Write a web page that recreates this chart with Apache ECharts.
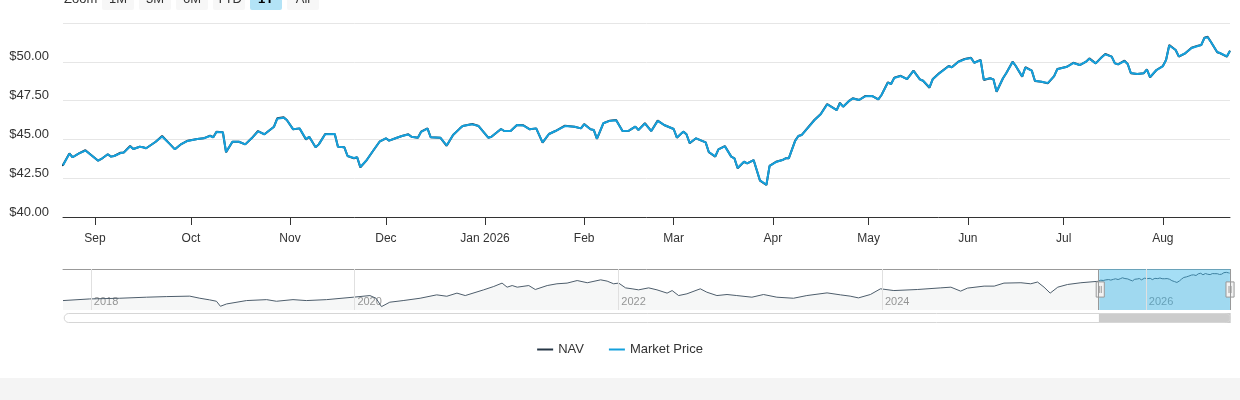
<!DOCTYPE html>
<html>
<head>
<meta charset="utf-8">
<script src="https://cdn.jsdelivr.net/npm/echarts@6/dist/echarts.min.js"></script>
<style>
  html, body { margin: 0; padding: 0; background: #f4f4f4; }
  #chart { width: 1240px; height: 378px; background: #fff; }
</style>
</head>
<body>
<div id="chart"></div>
<script>
// history before the visible year, only seen in the navigator
const histDates = [
  '2017-10-16', '2017-12-29', '2018-03-22', '2018-06-04', '2018-07-29', '2018-10-02', '2018-10-30',
  '2018-11-26', '2018-12-15', '2018-12-26', '2019-01-12', '2019-03-08', '2019-05-03', '2019-05-30',
  '2019-07-15', '2019-08-21', '2019-10-16', '2019-12-29', '2020-02-13', '2020-03-01', '2020-03-16',
  '2020-04-08', '2020-05-15', '2020-07-01', '2020-08-16', '2020-09-13', '2020-10-11', '2020-11-03',
  '2020-12-24', '2021-01-21', '2021-02-13', '2021-02-27', '2021-03-13', '2021-03-27', '2021-04-28',
  '2021-05-16', '2021-06-18', '2021-07-15', '2021-08-12', '2021-09-09', '2021-10-07', '2021-11-13',
  '2021-12-01', '2021-12-19', '2022-01-02', '2022-01-21', '2022-02-08', '2022-02-26', '2022-03-26',
  '2022-04-18', '2022-05-16', '2022-05-30', '2022-06-17', '2022-07-10', '2022-08-16', '2022-09-03',
  '2022-10-01', '2022-10-29', '2022-11-25', '2023-01-06', '2023-02-07', '2023-03-16', '2023-05-01',
  '2023-06-07', '2023-08-02', '2023-09-08', '2023-10-05', '2023-10-28', '2023-11-30', '2023-12-28',
  '2024-02-03', '2024-04-08', '2024-06-12', '2024-07-10', '2024-08-06', '2024-08-25', '2024-10-10',
  '2024-11-07', '2024-12-04', '2025-01-20', '2025-02-16', '2025-03-07', '2025-03-25', '2025-04-11',
  '2025-05-02', '2025-05-29', '2025-07-05'
];
const histNav = [
  26.8, 28.2, 28.8, 29.7, 30.2, 30.6, 28.8,
  27.4, 26.2, 21.9, 23.9, 26.8, 27.6, 26.2,
  27.6, 26.8, 27.6, 29.7, 31.1, 28.8, 21.6,
  25.4, 26.8, 28.8, 31.7, 30.5, 33.2, 31.1,
  36.0, 38.9, 41.8, 38.3, 39.7, 38.3, 39.7,
  36.3, 39.7, 41.2, 41.8, 44.0, 42.1, 44.6,
  43.5, 41.2, 41.8, 37.7, 36.9, 36.0, 37.7,
  36.0, 33.2, 35.4, 31.1, 32.6, 36.9, 34.0,
  31.1, 32.0, 31.1, 29.7, 32.0, 29.7, 28.8,
  31.1, 33.4, 31.7, 30.6, 29.1, 32.0, 36.9,
  35.4, 36.3, 37.7, 38.3, 34.9, 37.5, 39.2,
  39.2, 41.8, 42.1, 41.2, 42.7, 38.3, 33.2,
  38.3, 40.6, 42.1
];

// the visible year
const dates = [
  '2025-08-22', '2025-08-24', '2025-08-25', '2025-08-27', '2025-08-29', '2025-09-02', '2025-09-03',
  '2025-09-05', '2025-09-06', '2025-09-07', '2025-09-09', '2025-09-10', '2025-09-12', '2025-09-13',
  '2025-09-15', '2025-09-16', '2025-09-17', '2025-09-20', '2025-09-22', '2025-09-24', '2025-09-26',
  '2025-09-28', '2025-09-30', '2025-10-03', '2025-10-05', '2025-10-07', '2025-10-08', '2025-10-09',
  '2025-10-11', '2025-10-12', '2025-10-14', '2025-10-16', '2025-10-18', '2025-10-20', '2025-10-22',
  '2025-10-24', '2025-10-27', '2025-10-28', '2025-10-30', '2025-10-31', '2025-11-02', '2025-11-04',
  '2025-11-06', '2025-11-07', '2025-11-09', '2025-11-10', '2025-11-12', '2025-11-15', '2025-11-16',
  '2025-11-18', '2025-11-19', '2025-11-21', '2025-11-22', '2025-11-23', '2025-11-25', '2025-11-27',
  '2025-11-29', '2025-12-01', '2025-12-02', '2025-12-04', '2025-12-06', '2025-12-08', '2025-12-09',
  '2025-12-11', '2025-12-12', '2025-12-14', '2025-12-15', '2025-12-18', '2025-12-20', '2025-12-22',
  '2025-12-24', '2025-12-25', '2025-12-28', '2025-12-30', '2026-01-02', '2026-01-03', '2026-01-06',
  '2026-01-07', '2026-01-09', '2026-01-11', '2026-01-13', '2026-01-15', '2026-01-17', '2026-01-19',
  '2026-01-21', '2026-01-23', '2026-01-26', '2026-01-29', '2026-01-31', '2026-02-01', '2026-02-03',
  '2026-02-04', '2026-02-05', '2026-02-07', '2026-02-09', '2026-02-11', '2026-02-13', '2026-02-15',
  '2026-02-17', '2026-02-18', '2026-02-20', '2026-02-22', '2026-02-24', '2026-02-26', '2026-03-01',
  '2026-03-02', '2026-03-04', '2026-03-05', '2026-03-06', '2026-03-08', '2026-03-11', '2026-03-12',
  '2026-03-14', '2026-03-15', '2026-03-17', '2026-03-19', '2026-03-20', '2026-03-21', '2026-03-23',
  '2026-03-24', '2026-03-26', '2026-03-28', '2026-03-30', '2026-03-31', '2026-04-02', '2026-04-04',
  '2026-04-05', '2026-04-06', '2026-04-08', '2026-04-09', '2026-04-10', '2026-04-14', '2026-04-16',
  '2026-04-18', '2026-04-21', '2026-04-22', '2026-04-23', '2026-04-25', '2026-04-26', '2026-04-28',
  '2026-04-30', '2026-05-02', '2026-05-04', '2026-05-05', '2026-05-07', '2026-05-08', '2026-05-09',
  '2026-05-11', '2026-05-13', '2026-05-15', '2026-05-17', '2026-05-18', '2026-05-20', '2026-05-21',
  '2026-05-23', '2026-05-26', '2026-05-27', '2026-05-29', '2026-05-31', '2026-06-02', '2026-06-03',
  '2026-06-05', '2026-06-06', '2026-06-08', '2026-06-09', '2026-06-10', '2026-06-12', '2026-06-13',
  '2026-06-15', '2026-06-16', '2026-06-18', '2026-06-19', '2026-06-21', '2026-06-22', '2026-06-24',
  '2026-06-26', '2026-06-28', '2026-06-29', '2026-07-02', '2026-07-04', '2026-07-06', '2026-07-08',
  '2026-07-09', '2026-07-11', '2026-07-13', '2026-07-14', '2026-07-16', '2026-07-17', '2026-07-18',
  '2026-07-20', '2026-07-21', '2026-07-22', '2026-07-24', '2026-07-26', '2026-07-27', '2026-07-28',
  '2026-07-30', '2026-08-01', '2026-08-02', '2026-08-03', '2026-08-05', '2026-08-06', '2026-08-08',
  '2026-08-10', '2026-08-12', '2026-08-13', '2026-08-14', '2026-08-15', '2026-08-16', '2026-08-18',
  '2026-08-19', '2026-08-21', '2026-08-22'
];
const nav = [
  43.35, 44.10, 43.85, 44.10, 44.30, 43.63, 43.74,
  44.04, 43.89, 43.93, 44.14, 44.16, 44.57, 44.38,
  44.53, 44.49, 44.43, 44.85, 45.22, 44.79, 44.36,
  44.70, 44.92, 45.03, 45.07, 45.24, 45.14, 45.50,
  45.46, 44.17, 44.85, 44.85, 44.68, 45.07, 45.54,
  45.33, 45.82, 46.36, 46.42, 46.25, 45.65, 45.71,
  45.00, 45.17, 44.49, 44.68, 45.35, 45.35, 44.53,
  44.49, 43.93, 43.78, 43.85, 43.20, 43.67, 44.27,
  44.85, 45.07, 44.92, 45.07, 45.22, 45.33, 45.17,
  45.11, 45.50, 45.71, 45.14, 45.11, 44.59, 45.28,
  45.68, 45.86, 45.99, 45.86, 45.11, 45.17, 45.67,
  45.54, 45.54, 45.93, 45.91, 45.65, 45.71, 44.79,
  45.35, 45.54, 45.88, 45.82, 45.71, 45.99, 45.65,
  45.61, 45.03, 46.04, 46.21, 46.25, 45.54, 45.56,
  45.82, 45.61, 46.04, 45.54, 46.21, 45.93, 45.67,
  45.11, 45.50, 45.33, 44.75, 45.07, 44.81, 44.17,
  43.89, 44.36, 44.57, 43.89, 43.78, 43.14, 43.56,
  43.46, 43.67, 42.34, 42.06, 43.29, 43.56, 43.67,
  43.78, 43.78, 44.92, 45.22, 45.28, 46.25, 46.64,
  47.28, 46.89, 47.36, 47.11, 47.50, 47.65, 47.54,
  47.80, 47.80, 47.58, 47.86, 48.68, 48.57, 48.98,
  49.10, 48.89, 49.43, 48.87, 48.78, 48.33, 48.87,
  49.26, 49.73, 49.65, 50.01, 50.18, 50.26, 49.94,
  50.12, 48.83, 48.94, 48.87, 48.07, 48.94, 49.26,
  50.01, 49.73, 49.04, 49.65, 49.43, 48.76, 48.72,
  48.61, 49.08, 49.54, 49.68, 49.94, 49.79, 50.01,
  50.22, 49.90, 50.33, 50.50, 50.33, 49.90, 49.84,
  50.07, 49.86, 49.26, 49.21, 49.26, 49.52, 49.00,
  49.47, 49.73, 50.12, 51.08, 50.76, 50.33, 50.55,
  50.91, 51.04, 51.08, 51.55, 51.61, 51.29, 50.61,
  50.55, 50.33, 50.72
];
const price = [
  43.33, 44.08, 43.85, 44.10, 44.28, 43.63, 43.74,
  44.04, 43.89, 43.93, 44.12, 44.16, 44.55, 44.38,
  44.53, 44.49, 44.43, 44.85, 45.19, 44.79, 44.36,
  44.70, 44.90, 45.03, 45.07, 45.22, 45.14, 45.48,
  45.46, 44.19, 44.85, 44.85, 44.68, 45.07, 45.52,
  45.33, 45.82, 46.33, 46.40, 46.25, 45.65, 45.71,
  45.02, 45.17, 44.49, 44.68, 45.33, 45.35, 44.53,
  44.49, 43.93, 43.80, 43.85, 43.22, 43.67, 44.27,
  44.85, 45.07, 44.92, 45.07, 45.22, 45.31, 45.17,
  45.11, 45.48, 45.69, 45.14, 45.11, 44.61, 45.28,
  45.68, 45.86, 45.97, 45.86, 45.11, 45.17, 45.67,
  45.54, 45.54, 45.93, 45.89, 45.65, 45.71, 44.81,
  45.35, 45.54, 45.86, 45.82, 45.71, 45.97, 45.65,
  45.61, 45.05, 46.04, 46.19, 46.23, 45.54, 45.56,
  45.82, 45.61, 46.02, 45.54, 46.19, 45.93, 45.67,
  45.13, 45.50, 45.33, 44.77, 45.07, 44.81, 44.19,
  43.91, 44.36, 44.55, 43.89, 43.78, 43.16, 43.56,
  43.46, 43.67, 42.36, 42.08, 43.29, 43.54, 43.67,
  43.78, 43.78, 44.90, 45.22, 45.28, 46.23, 46.62,
  47.25, 46.89, 47.33, 47.11, 47.50, 47.63, 47.54,
  47.78, 47.80, 47.58, 47.86, 48.66, 48.57, 48.96,
  49.08, 48.89, 49.41, 48.87, 48.78, 48.35, 48.87,
  49.24, 49.71, 49.65, 49.99, 50.16, 50.24, 49.94,
  50.10, 48.85, 48.94, 48.87, 48.09, 48.94, 49.26,
  49.99, 49.73, 49.06, 49.63, 49.43, 48.78, 48.72,
  48.63, 49.08, 49.52, 49.68, 49.92, 49.79, 50.01,
  50.20, 49.90, 50.31, 50.48, 50.33, 49.90, 49.84,
  50.05, 49.86, 49.28, 49.21, 49.26, 49.50, 49.02,
  49.47, 49.71, 50.12, 51.05, 50.76, 50.35, 50.55,
  50.89, 51.02, 51.08, 51.53, 51.58, 51.29, 50.63,
  50.55, 50.35, 50.70
];

const windowStart = '2025-08-22';
const windowEnd = '2026-08-22';
const yTicks = [40, 42.5, 45, 47.5, 50, 52.5];
const monthNames = ['Jan', 'Feb', 'Mar', 'Apr', 'May', 'Jun', 'Jul', 'Aug', 'Sep', 'Oct', 'Nov', 'Dec'];
const navigatorYears = ['2018', '2020', '2022', '2024', '2026'];
const zoomButtons = ['1M', '3M', '6M', 'YTD', '1Y', 'All'];
const selectedButton = '1Y';

const font = 'Liberation Sans, Arial, Helvetica, sans-serif';
const navColor = '#263746';
const priceColor = '#14a0dc';

const navAll = histDates.map((d, i) => [d, histNav[i]]).concat(dates.map((d, i) => [d, nav[i]]));
const priceData = dates.map((d, i) => [d, price[i]]);

function monthLabel(value) {
  const d = new Date(value);
  if (d.getDate() !== 1 || d.getHours() !== 0) return '';
  const m = d.getMonth();
  return m === 0 ? monthNames[0] + ' ' + d.getFullYear() : monthNames[m];
}

function yearLabel(value) {
  const d = new Date(value);
  if (d.getMonth() !== 0 || d.getDate() !== 1) return '';
  const y = String(d.getFullYear());
  return navigatorYears.indexOf(y) >= 0 ? y : '';
}

const buttons = [{
  type: 'text', x: 64, y: -1,
  style: { text: 'Zoom', fill: '#333', font: '13px ' + font, verticalAlign: 'middle' }
}];
zoomButtons.forEach((b, i) => {
  const on = b === selectedButton;
  buttons.push({
    type: 'group', x: 102 + i * 37, y: -12,
    children: [
      { type: 'rect', shape: { x: 0, y: 0, width: 32, height: 22, r: 2 },
        style: { fill: on ? '#b3e3f6' : '#f7f7f7' } },
      { type: 'text', x: 16, y: 11,
        style: { text: b, align: 'center', verticalAlign: 'middle', fill: on ? '#000' : '#333',
                 font: (on ? 'bold ' : '') + '13px ' + font } }
    ]
  });
});

// navigator grid lines at the labelled years, plus the outline of the selected window
const navigatorLines = navigatorYears.map(y => ({ xAxis: y + '-01-01' })).concat([
  { xAxis: windowStart, lineStyle: { color: '#999', width: 1, type: 'solid' } },
  { xAxis: windowEnd, lineStyle: { color: '#999', width: 1, type: 'solid' } }
]);

const chart = echarts.init(document.getElementById('chart'));
chart.setOption({
  animation: false,
  textStyle: { fontFamily: font },
  graphic: buttons,
  legend: {
    data: ['NAV', 'Market Price'],
    top: 338, left: 'center',
    icon: 'rect', itemWidth: 16, itemHeight: 2, itemGap: 25,
    textStyle: { fontSize: 13, color: '#333' }
  },
  grid: [
    { left: 63, right: 10, top: 23, height: 194, outerBoundsMode: 'none' },
    { left: 63, right: 10, top: 269, height: 41, outerBoundsMode: 'none' }
  ],
  xAxis: [
    {
      type: 'time', gridIndex: 0,
      maxInterval: 31 * 864e5,
      axisLine: { show: true, lineStyle: { color: '#333', width: 1 } },
      axisTick: { show: true, length: 8, lineStyle: { color: '#333' } },
      axisLabel: { margin: 16, fontSize: 12, color: '#333', formatter: monthLabel,
                   showMinLabel: false, showMaxLabel: false },
      splitLine: { show: false }
    },
    {
      type: 'time', gridIndex: 1, position: 'top',
      min: histDates[0], max: dates[dates.length - 1],
      minInterval: 365 * 864e5, maxInterval: 366 * 864e5,
      axisLine: { show: true, lineStyle: { color: '#999', width: 1 } },
      axisTick: { show: false },
      axisLabel: { inside: true, margin: 33, align: 'left', verticalAlign: 'middle',
                   padding: [0, 0, 0, 3], fontSize: 11, color: '#999', formatter: yearLabel },
      splitLine: { show: false }
    }
  ],
  yAxis: [
    {
      type: 'value', gridIndex: 0,
      min: yTicks[0], max: yTicks[yTicks.length - 1], interval: yTicks[1] - yTicks[0],
      axisLine: { show: false }, axisTick: { show: false },
      axisLabel: { margin: 14, fontSize: 13, color: '#333', verticalAlign: 'bottom',
                   lineHeight: 10, showMaxLabel: false,
                   formatter: v => (v >= yTicks[yTicks.length - 1] ? '' : '$' + v.toFixed(2)) },
      splitLine: { lineStyle: { color: '#e6e6e6' } }
    },
    { type: 'value', gridIndex: 1, show: false, min: 18.7, max: 53.9 }
  ],
  dataZoom: [
    {
      type: 'slider', xAxisIndex: 0, filterMode: 'none',
      startValue: windowStart, endValue: windowEnd,
      left: 63, right: 10, top: 269, height: 41,
      showDataShadow: false, showDetail: false, brushSelect: false, moveHandleSize: 0,
      backgroundColor: 'rgba(0,0,0,0)', borderColor: 'rgba(0,0,0,0)',
      fillerColor: 'rgba(41,176,230,0.42)',
      handleIcon: 'path://M0,0 L8,0 L8,15 L0,15 Z M3,4 L3,11 M5,4 L5,11',
      handleSize: '37%',
      handleStyle: { color: '#f2f2f2', borderColor: '#999', borderWidth: 1 }
    },
    {
      type: 'slider', xAxisIndex: 0, filterMode: 'none',
      startValue: windowStart, endValue: windowEnd,
      left: 63, right: 10, top: 313, height: 10,
      showDataShadow: false, showDetail: false, brushSelect: false, moveHandleSize: 0,
      backgroundColor: '#fff', borderColor: '#d6d6d6', borderRadius: 5,
      fillerColor: '#cccccc',
      handleSize: 0, handleStyle: { opacity: 0 }
    }
  ],
  series: [
    {
      name: 'NAV', type: 'line', xAxisIndex: 0, yAxisIndex: 0,
      data: navAll, showSymbol: false, color: navColor,
      lineStyle: { width: 2, color: navColor }
    },
    {
      name: 'Market Price', type: 'line', xAxisIndex: 0, yAxisIndex: 0,
      data: priceData, showSymbol: false, color: priceColor,
      lineStyle: { width: 2, color: priceColor }
    },
    {
      name: 'navigator', type: 'line', xAxisIndex: 1, yAxisIndex: 1,
      data: navAll, showSymbol: false, silent: true,
      lineStyle: { width: 1, color: '#4d5d6b' },
      areaStyle: { color: 'rgba(40,60,80,0.06)' },
      markLine: {
        silent: true, symbol: 'none', label: { show: false },
        lineStyle: { color: '#e0e0e0', width: 1, type: 'solid' },
        data: navigatorLines
      }
    }
  ]
});
</script>
</body>
</html>
